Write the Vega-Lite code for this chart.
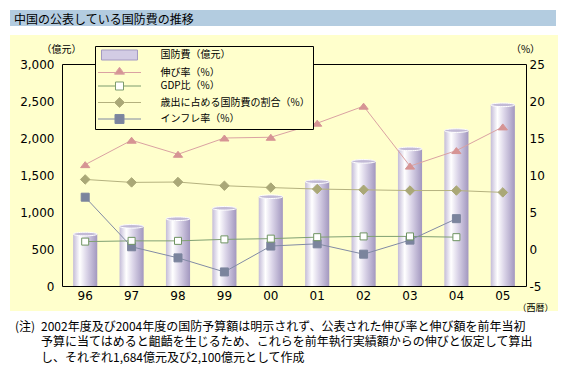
{
  "$schema": "https://vega.github.io/schema/vega-lite/v6.json",
  "background": "#ffffff",
  "padding": {"left": 10, "top": 10, "right": 0, "bottom": 0},
  "spacing": 9,
  "datasets": {
    "budget": [
      {"year": "96", "budget": 702},
      {"year": "97", "budget": 806},
      {"year": "98", "budget": 909},
      {"year": "99", "budget": 1050},
      {"year": "00", "budget": 1207},
      {"year": "01", "budget": 1410},
      {"year": "02", "budget": 1684},
      {"year": "03", "budget": 1853},
      {"year": "04", "budget": 2100},
      {"year": "05", "budget": 2448}
    ],
    "pct": [
      {"year": "96", "series": "伸び率（%）", "value": 11.4},
      {"year": "97", "series": "伸び率（%）", "value": 14.7},
      {"year": "98", "series": "伸び率（%）", "value": 12.8},
      {"year": "99", "series": "伸び率（%）", "value": 15.0},
      {"year": "00", "series": "伸び率（%）", "value": 15.1},
      {"year": "01", "series": "伸び率（%）", "value": 17.0},
      {"year": "02", "series": "伸び率（%）", "value": 19.3},
      {"year": "03", "series": "伸び率（%）", "value": 11.2},
      {"year": "04", "series": "伸び率（%）", "value": 13.3},
      {"year": "05", "series": "伸び率（%）", "value": 16.5},
      {"year": "96", "series": "GDP比（%）", "value": 1.0},
      {"year": "97", "series": "GDP比（%）", "value": 1.1},
      {"year": "98", "series": "GDP比（%）", "value": 1.1},
      {"year": "99", "series": "GDP比（%）", "value": 1.3},
      {"year": "00", "series": "GDP比（%）", "value": 1.4},
      {"year": "01", "series": "GDP比（%）", "value": 1.6},
      {"year": "02", "series": "GDP比（%）", "value": 1.7},
      {"year": "03", "series": "GDP比（%）", "value": 1.7},
      {"year": "04", "series": "GDP比（%）", "value": 1.6},
      {"year": "96", "series": "歳出に占める国防費の割合（%）", "value": 9.4},
      {"year": "97", "series": "歳出に占める国防費の割合（%）", "value": 9.0},
      {"year": "98", "series": "歳出に占める国防費の割合（%）", "value": 9.05},
      {"year": "99", "series": "歳出に占める国防費の割合（%）", "value": 8.55},
      {"year": "00", "series": "歳出に占める国防費の割合（%）", "value": 8.3},
      {"year": "01", "series": "歳出に占める国防費の割合（%）", "value": 8.1},
      {"year": "02", "series": "歳出に占める国防費の割合（%）", "value": 8.0},
      {"year": "03", "series": "歳出に占める国防費の割合（%）", "value": 7.9},
      {"year": "04", "series": "歳出に占める国防費の割合（%）", "value": 7.9},
      {"year": "05", "series": "歳出に占める国防費の割合（%）", "value": 7.65},
      {"year": "96", "series": "インフレ率（%）", "value": 7.0},
      {"year": "97", "series": "インフレ率（%）", "value": 0.3},
      {"year": "98", "series": "インフレ率（%）", "value": -1.2},
      {"year": "99", "series": "インフレ率（%）", "value": -3.1},
      {"year": "00", "series": "インフレ率（%）", "value": 0.4},
      {"year": "01", "series": "インフレ率（%）", "value": 0.7},
      {"year": "02", "series": "インフレ率（%）", "value": -0.7},
      {"year": "03", "series": "インフレ率（%）", "value": 1.2},
      {"year": "04", "series": "インフレ率（%）", "value": 4.1}
    ]
  },
  "vconcat": [
    {
      "width": 546,
      "height": 16,
      "view": {"fill": "#b3cce0", "stroke": null},
      "data": {"values": [{"t": "中国の公表している国防費の推移"}]},
      "mark": {"type": "text", "align": "left", "baseline": "middle", "dx": 4, "dy": 2, "font": "Noto Sans CJK JP", "fontSize": 12, "color": "#000000"},
      "encoding": {
        "text": {"field": "t", "type": "nominal"},
        "x": {"datum": 0, "type": "quantitative", "scale": {"domain": [0, 1]}, "axis": null}
      }
    },
    {
      "width": 548,
      "height": 276,
      "view": {"fill": "#ffffcc", "stroke": null},
      "layer": [
        {
          "data": {"name": "budget"},
          "layer": [
            {
              "mark": {
                "type": "bar",
                "color": {
                  "gradient": "linear", "x1": 0, "y1": 0, "x2": 1, "y2": 0,
                  "stops": [
                    {"offset": 0, "color": "#c4bcd8"},
                    {"offset": 0.28, "color": "#ffffff"},
                    {"offset": 0.55, "color": "#dcd6e9"},
                    {"offset": 1, "color": "#a297bf"}
                  ]
                }
              },
              "encoding": {
                "x": {
                  "field": "year", "type": "ordinal", "sort": null,
                  "scale": {"domain": ["96", "97", "98", "99", "00", "01", "02", "03", "04", "05"], "range": [52, 516], "paddingInner": 0.48, "paddingOuter": 0.24},
                  "axis": {"orient": "bottom", "offset": -25, "zindex": 1, "labelAngle": 0, "labelPadding": 4, "domain": true, "ticks": false, "grid": false, "title": "（西暦）", "titleX": 525, "titleY": 21, "titleAlign": "center", "titleBaseline": "middle", "titleFontSize": 9}
                },
                "y": {
                  "field": "budget", "type": "quantitative",
                  "scale": {"domain": [0, 3000], "range": [251, 29], "nice": false},
                  "axis": {"orient": "left", "offset": -52, "zindex": 1, "values": [0, 500, 1000, 1500, 2000, 2500, 3000], "labelExpr": "format(datum.value, ',')", "labelPadding": 8, "ticks": false, "grid": false, "title": "（億元）", "titleAngle": 0, "titleX": -1, "titleY": 14, "titleAlign": "center", "titleBaseline": "middle", "titleFontSize": 10}
                }
              }
            },
            {
              "mark": {"type": "point", "shape": "M-1,0A1,0.15 0 1,1 1,0A1,0.15 0 1,1 -1,0Z", "size": 576, "filled": true, "fill": "#c2bad6", "stroke": "#ffffff", "strokeWidth": 1, "opacity": 1},
              "encoding": {
                "x": {"field": "year", "type": "ordinal", "sort": null},
                "y": {"field": "budget", "type": "quantitative"}
              }
            }
          ]
        },
        {
          "data": {"name": "pct"},
          "layer": [
            {
              "mark": {"type": "line", "strokeWidth": 1},
              "encoding": {
                "x": {
                  "field": "year", "type": "ordinal", "sort": null,
                  "scale": {"domain": ["96", "97", "98", "99", "00", "01", "02", "03", "04", "05"], "range": [52, 516], "paddingInner": 0.48, "paddingOuter": 0.24},
                  "axis": {"orient": "top", "offset": -29, "zindex": 1, "labels": false, "ticks": false, "domain": true, "grid": false, "title": null}
                },
                "y": {
                  "field": "value", "type": "quantitative",
                  "scale": {"domain": [-5, 25], "range": [251, 29], "nice": false, "zero": false},
                  "axis": {"orient": "right", "offset": -32, "zindex": 1, "values": [-5, 0, 5, 10, 15, 20, 25], "labelExpr": "datum.value + ''", "labelPadding": 3, "ticks": false, "grid": false, "title": "（%）", "titleAngle": 0, "titleX": -1, "titleY": 14, "titleAlign": "center", "titleBaseline": "middle", "titleFontSize": 10}
                },
                "color": {
                  "field": "series", "type": "nominal",
                  "scale": {
                    "domain": ["伸び率（%）", "GDP比（%）", "歳出に占める国防費の割合（%）", "インフレ率（%）"],
                    "range": ["#daa2a2", "#80a072", "#b5b27f", "#828ba5"]
                  },
                  "legend": null
                }
              }
            },
            {
              "transform": [{"filter": "datum.series === '伸び率（%）'"}],
              "mark": {"type": "point", "shape": "M-1,0.65L0,-0.65L1,0.65Z", "size": 85, "filled": true, "fill": "#d69494", "stroke": "#d69494", "strokeWidth": 1, "opacity": 1},
              "encoding": {
                "x": {"field": "year", "type": "ordinal", "sort": null},
                "y": {"field": "value", "type": "quantitative"}
              }
            },
            {
              "transform": [{"filter": "datum.series === '歳出に占める国防費の割合（%）'"}],
              "mark": {"type": "point", "shape": "diamond", "size": 90, "filled": true, "fill": "#aaa877", "stroke": "#aaa877", "strokeWidth": 1, "opacity": 1},
              "encoding": {
                "x": {"field": "year", "type": "ordinal", "sort": null},
                "y": {"field": "value", "type": "quantitative"}
              }
            },
            {
              "transform": [{"filter": "datum.series === 'インフレ率（%）'"}],
              "mark": {"type": "point", "shape": "square", "size": 64, "filled": true, "fill": "#7b849d", "stroke": "#7b849d", "strokeWidth": 1, "opacity": 1},
              "encoding": {
                "x": {"field": "year", "type": "ordinal", "sort": null},
                "y": {"field": "value", "type": "quantitative"}
              }
            },
            {
              "transform": [{"filter": "datum.series === 'GDP比（%）'"}],
              "mark": {"type": "point", "shape": "square", "size": 49, "filled": true, "fill": "#ffffff", "stroke": "#6f9462", "strokeWidth": 1, "opacity": 1},
              "encoding": {
                "x": {"field": "year", "type": "ordinal", "sort": null},
                "y": {"field": "value", "type": "quantitative"}
              }
            },
            {
              "mark": {"type": "point", "filled": true, "opacity": 1, "strokeWidth": 1},
              "encoding": {
                "x": {"field": "year", "type": "ordinal", "sort": null},
                "y": {"field": "legendonly", "type": "quantitative"},
                "shape": {
                  "field": "series", "type": "nominal",
                  "scale": {
                    "domain": ["国防費（億元）", "伸び率（%）", "GDP比（%）", "歳出に占める国防費の割合（%）", "インフレ率（%）"],
                    "range": [
                      "M-3.27,-0.91H3.27V0.91H-3.27Z",
                      "M-3.91,0H-0.69M0.69,0H3.91M-0.91,0.3L0,-0.95L0.91,0.3Z",
                      "M-3.91,0H-0.73M0.73,0H3.91M-0.73,-0.73H0.73V0.73H-0.73Z",
                      "M-3.91,0H-0.91M0.91,0H3.91M-0.91,0L0,-0.91L0.91,0L0,0.91Z",
                      "M-3.91,0H-0.82M0.82,0H3.91M-0.82,-0.82H0.82V0.82H-0.82Z"
                    ]
                  },
                  "legend": {
                    "orient": "none", "legendX": 85, "legendY": 36, "direction": "vertical", "title": null,
                    "fillColor": "#ffffcc", "strokeColor": "#000000", "padding": 3,
                    "symbolSize": 121, "symbolStrokeWidth": 1, "symbolOffset": 15.5, "labelOffset": 35, "rowPadding": 1.5,
                    "labelFont": "Noto Sans CJK JP", "labelFontSize": 10, "labelColor": "#000000", "labelLimit": 400, "labelBaseline": "middle"
                  }
                },
                "fill": {
                  "field": "series", "type": "nominal",
                  "scale": {
                    "domain": ["国防費（億元）", "伸び率（%）", "GDP比（%）", "歳出に占める国防費の割合（%）", "インフレ率（%）"],
                    "range": ["#d3cce4", "#d69494", "#ffffff", "#aaa877", "#7b849d"]
                  }
                },
                "stroke": {
                  "field": "series", "type": "nominal",
                  "scale": {
                    "domain": ["国防費（億元）", "伸び率（%）", "GDP比（%）", "歳出に占める国防費の割合（%）", "インフレ率（%）"],
                    "range": ["#a49ac1", "#daa2a2", "#7d9c6e", "#b3b07e", "#7e88a2"]
                  }
                }
              }
            }
          ]
        }
      ],
      "resolve": {"scale": {"y": "independent"}, "axis": {"x": "independent"}}
    },
    {
      "width": 548,
      "height": 12,
      "layer": [
        {
          "data": {"values": [{"t": "(注)"}]},
          "mark": {"type": "text", "align": "left", "baseline": "middle", "dx": 5, "font": "Noto Sans CJK JP", "fontSize": 12, "color": "#000000"},
          "encoding": {
            "text": {"field": "t", "type": "nominal"},
            "x": {"datum": 0, "type": "quantitative", "scale": {"domain": [0, 1]}, "axis": null}
          }
        },
        {
          "data": {"values": [{"t": "2002年度及び2004年度の国防予算額は明示されず、公表された伸び率と伸び額を前年当初\n予算に当てはめると齟齬を生じるため、これらを前年執行実績額からの伸びと仮定して算出\nし、それぞれ1,684億元及び2,100億元として作成"}]},
          "mark": {"type": "text", "align": "left", "baseline": "middle", "dx": 31, "lineBreak": "\n", "lineHeight": 15.3, "font": "Noto Sans CJK JP", "fontSize": 12, "color": "#000000"},
          "encoding": {
            "text": {"field": "t", "type": "nominal"},
            "x": {"datum": 0, "type": "quantitative", "scale": {"domain": [0, 1]}, "axis": null}
          }
        }
      ]
    }
  ],
  "config": {
    "view": {"stroke": null},
    "font": "Noto Sans CJK JP",
    "axis": {
      "labelFont": "DejaVu Sans", "labelFontSize": 12, "labelColor": "#000000",
      "titleFont": "Noto Sans CJK JP", "titleFontWeight": "normal", "titleColor": "#000000",
      "domainColor": "#000000", "domainWidth": 1, "grid": false, "ticks": false
    }
  }
}
